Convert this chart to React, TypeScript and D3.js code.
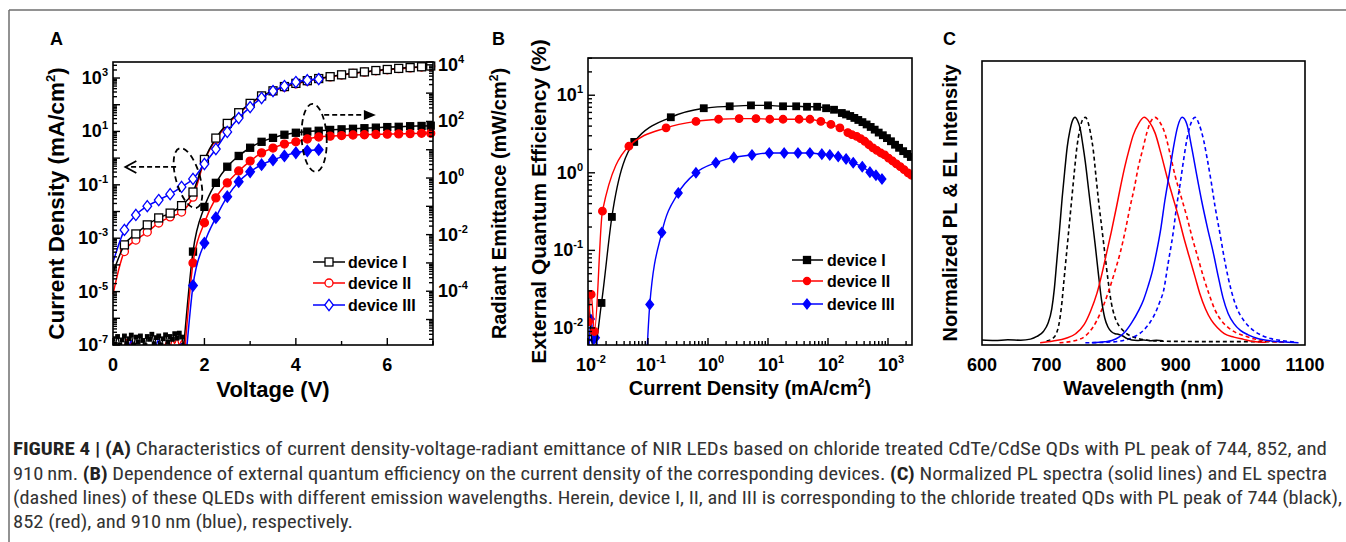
import React from "react";
import * as d3 from "d3";

const W = 1346;
const H = 542;
const FONT = "'Liberation Sans', Arial, Helvetica, sans-serif";
const CAP_FONT = "'Liberation Sans Narrow', 'Roboto Condensed', 'DejaVu Sans Condensed', 'Liberation Sans', sans-serif";

// ---------------- Panel A data (log10 values) ----------------
const vJ = [0, 0.25, 0.5, 0.75, 1, 1.25, 1.5, 1.75, 2, 2.25, 2.5, 2.75, 3, 3.25, 3.5, 3.75, 4, 4.25, 4.5, 4.75, 5, 5.25, 5.5, 5.75, 6, 6.25, 6.5, 6.75, 6.95];
const jLogDevI = [-4.3, -3.25, -2.84, -2.5, -2.24, -2.06, -1.78, -1.27, -0.05, 0.75, 1.3, 1.7, 2.05, 2.33, 2.52, 2.68, 2.8, 2.9, 2.98, 3.05, 3.12, 3.18, 3.23, 3.28, 3.32, 3.36, 3.39, 3.42, 3.45];
const jLogDevII = [-5.1, -3.5, -3.07, -2.77, -2.43, -2.2, -2.02, -1.46, -0.1, 0.7, 1.25, 1.67, 2.02, 2.3, 2.5, 2.66, 2.78, 2.88, 2.97, 3.04, 3.11, 3.17, 3.22, 3.27, 3.31, 3.35, 3.38, 3.41, 3.44];
const vJDevIII = [0, 0.25, 0.5, 0.75, 1, 1.25, 1.5, 1.75, 2, 2.25, 2.5, 2.75, 3, 3.25, 3.5, 3.75, 4, 4.25, 4.5];
const jLogDevIII = [-3.9, -2.69, -2.13, -1.8, -1.57, -1.35, -1.08, -0.78, -0.22, 0.34, 0.98, 1.5, 1.91, 2.25, 2.51, 2.7, 2.85, 2.92, 2.96];

const vRadI = [1.55, 1.75, 2, 2.25, 2.5, 2.75, 3, 3.25, 3.5, 3.75, 4, 4.25, 4.5, 4.75, 5, 5.25, 5.5, 5.75, 6, 6.25, 6.5, 6.75, 6.95];
const radLogI = [-5.9, -2.6, -1.02, -0.17, 0.4, 0.78, 1.07, 1.28, 1.42, 1.53, 1.6, 1.64, 1.67, 1.7, 1.72, 1.74, 1.76, 1.78, 1.8, 1.81, 1.83, 1.84, 1.85];
const vRadII = [1.58, 1.75, 2, 2.25, 2.5, 2.75, 3, 3.25, 3.5, 3.75, 4, 4.25, 4.5, 4.75, 5, 5.25, 5.5, 5.75, 6, 6.25, 6.5, 6.75, 6.95];
const radLogII = [-5.9, -3.0, -1.58, -0.7, -0.17, 0.25, 0.6, 0.89, 1.06, 1.2, 1.28, 1.38, 1.45, 1.48, 1.5, 1.52, 1.53, 1.54, 1.55, 1.56, 1.57, 1.58, 1.58];
const vRadIII = [1.62, 1.75, 2, 2.25, 2.5, 2.75, 3, 3.25, 3.5, 3.75, 4, 4.25, 4.5];
const radLogIII = [-5.9, -3.8, -2.3, -1.4, -0.66, -0.13, 0.22, 0.47, 0.64, 0.78, 0.89, 0.96, 1.0];

const vNoiseI = [0, 0.05, 0.1, 0.15, 0.2, 0.25, 0.3, 0.35, 0.4, 0.45, 0.5, 0.55, 0.6, 0.65, 0.7, 0.75, 0.8, 0.85, 0.9, 0.95, 1, 1.05, 1.1, 1.15, 1.2, 1.25, 1.3, 1.35, 1.4, 1.45, 1.5, 1.55];
const radLogNoiseI = [-5.7, -5.88, -5.6, -5.9, -5.72, -5.58, -5.85, -5.68, -5.55, -5.9, -5.62, -5.8, -5.58, -5.74, -5.92, -5.6, -5.7, -5.52, -5.86, -5.64, -5.58, -5.9, -5.68, -5.54, -5.8, -5.6, -5.7, -5.5, -5.66, -5.48, -5.62, -5.9];
const vNoiseII = [0.2, 0.25, 0.3, 0.35, 0.4, 0.45, 0.5, 0.55, 0.6, 0.7, 0.8, 0.9, 1.0, 1.1, 1.2, 1.25, 1.3, 1.35, 1.4, 1.45, 1.5, 1.55];
const radLogNoiseII = [-6.2, -5.95, -5.7, -5.95, -5.8, -6.1, -6.2, -6.1, -6.2, -6.2, -6.2, -6.1, -6.2, -6.0, -5.75, -5.95, -5.7, -5.85, -5.65, -5.9, -5.75, -6.0];
const vNoiseIII = [0.3, 0.35, 0.4, 0.45, 0.5, 0.9, 0.95, 1.0, 1.05, 1.1, 1.4, 1.45, 1.5, 1.55];
const radLogNoiseIII = [-6.2, -5.95, -5.75, -6.0, -6.2, -6.2, -5.9, -5.7, -5.95, -6.2, -6.2, -5.95, -5.85, -6.1];

const aLeftLabelExps = [3, 1, -1, -3, -5, -7];
const aRightLabelExps = [4, 2, 0, -2, -4];
const aXLabels = [0, 2, 4, 6];
const aXMinor = [1, 3, 5, 7];

// ---------------- Panel B data ----------------
const jEqeI = [0.0102, 0.0125, 0.0168, 0.025, 0.059, 0.24, 0.85, 2.3, 5.2, 10, 17.8, 29.5, 44.7, 66, 93, 126, 170, 200, 235, 275, 320, 375, 440, 515, 600, 700, 820, 960, 1120, 1310, 1530, 1790, 2090, 2400];
const eqeI = [0.027, 0.005, 0.021, 0.27, 2.5, 5.2, 6.8, 7.2, 7.4, 7.4, 7.2, 7.2, 7.1, 7.1, 6.8, 6.5, 5.9, 5.65, 5.4, 5.1, 4.8, 4.5, 4.2, 3.9, 3.6, 3.3, 3.05, 2.8, 2.55, 2.3, 2.1, 1.9, 1.75, 1.6];
const jEqeII = [0.0102, 0.0113, 0.0128, 0.0174, 0.048, 0.2, 0.63, 1.5, 3.3, 6.3, 10.7, 17.8, 33, 50, 76, 112, 158, 214, 250, 300, 350, 410, 480, 560, 650, 760, 880, 1020, 1190, 1380, 1600, 1850, 2150, 2450];
const eqeII = [0.012, 0.027, 0.009, 0.32, 2.2, 3.8, 4.6, 4.9, 5.0, 5.0, 4.9, 4.9, 4.9, 4.9, 4.6, 4.2, 3.8, 3.3, 3.1, 2.95, 2.75, 2.55, 2.3, 2.1, 1.95, 1.8, 1.7, 1.55, 1.42, 1.3, 1.2, 1.1, 1.0, 0.93];
const jEqeIII = [0.095, 0.107, 0.17, 0.32, 0.63, 1.35, 2.7, 5.4, 10.5, 18.6, 31.6, 50, 79, 107, 148, 200, 263, 372, 500, 630, 794];
const eqeIII = [0.004, 0.02, 0.17, 0.55, 1.0, 1.35, 1.58, 1.7, 1.8, 1.8, 1.8, 1.8, 1.74, 1.7, 1.62, 1.51, 1.35, 1.2, 1.02, 0.93, 0.83];
const jNoiseIII = [0.0102, 0.0112, 0.0124, 0.0136, 0.015];
const eqeNoiseIII = [0.004, 0.013, 0.007, 0.0075, 0.004];

const bYLabelExps = [1, 0, -1, -2];
const bXLabelExps = [-2, -1, 0, 1, 2, 3];

// ---------------- Panel C data ----------------
const wlPLI = [600, 620, 640, 660, 675, 685, 695, 702, 708, 712, 716, 720, 724, 728, 732, 736, 740, 744, 748, 752, 756, 760, 765, 770, 775, 780, 785, 790, 795, 800, 806, 812, 818, 825, 832, 840, 850, 860, 870, 880];
const plI = [0.012, 0.01, 0.013, 0.011, 0.016, 0.028, 0.05, 0.085, 0.15, 0.24, 0.37, 0.5, 0.64, 0.76, 0.87, 0.94, 0.985, 1.0, 0.985, 0.95, 0.88, 0.8, 0.68, 0.56, 0.44, 0.31, 0.19, 0.11, 0.07, 0.05, 0.04, 0.037, 0.03, 0.018, 0.012, 0.01, 0.012, 0.009, 0.011, 0.009];
const wlELI = [700, 710, 715, 719, 723, 727, 731, 735, 739, 743, 747, 751, 755, 760, 764, 768, 772, 776, 780, 785, 790, 795, 800, 805, 810, 815, 822, 830, 840, 855, 870, 900, 950, 1000, 1070];
const elI = [0.008, 0.02, 0.04, 0.08, 0.16, 0.28, 0.4, 0.52, 0.64, 0.76, 0.87, 0.94, 0.985, 1.0, 0.98, 0.93, 0.86, 0.75, 0.64, 0.52, 0.4, 0.28, 0.18, 0.12, 0.085, 0.065, 0.045, 0.03, 0.02, 0.012, 0.008, 0.006, 0.005, 0.005, 0.004];
const wlPLII = [690, 710, 730, 745, 758, 768, 778, 786, 793, 800, 808, 815, 821, 828, 834, 842, 851, 859, 868, 877, 886, 895, 904, 913, 922, 930, 937, 946, 955, 965, 975, 990, 1005, 1020, 1040];
const plII = [0.0, 0.008, 0.02, 0.04, 0.08, 0.14, 0.22, 0.31, 0.4, 0.49, 0.6, 0.7, 0.78, 0.86, 0.92, 0.97, 1.0, 0.98, 0.93, 0.84, 0.74, 0.65, 0.56, 0.46, 0.37, 0.29, 0.22, 0.15, 0.1, 0.065, 0.04, 0.025, 0.015, 0.006, 0.002];
const wlELII = [720, 745, 760, 772, 783, 795, 805, 814, 822, 829, 836, 842, 849, 855, 861, 868, 875, 883, 891, 899, 908, 917, 926, 935, 943, 951, 960, 970, 980, 993, 1007, 1020, 1035, 1050, 1070];
const elII = [0.0, 0.01, 0.03, 0.07, 0.13, 0.22, 0.31, 0.4, 0.5, 0.6, 0.69, 0.78, 0.86, 0.93, 0.98, 1.0, 0.98, 0.93, 0.84, 0.74, 0.65, 0.56, 0.46, 0.37, 0.29, 0.22, 0.15, 0.1, 0.07, 0.045, 0.03, 0.018, 0.01, 0.005, 0.002];
const wlPLIII = [770, 790, 801, 812, 822, 832, 842, 850, 857, 864, 870, 877, 883, 890, 896, 903, 910, 917, 925, 932, 940, 949, 958, 966, 973, 981, 990, 1000, 1012, 1028, 1048, 1070, 1090];
const plIII = [0.0, 0.004, 0.01, 0.025, 0.05, 0.09, 0.14, 0.19, 0.25, 0.32, 0.4, 0.51, 0.63, 0.75, 0.86, 0.96, 1.0, 0.97, 0.86, 0.75, 0.63, 0.51, 0.4, 0.29, 0.2, 0.13, 0.085, 0.055, 0.035, 0.018, 0.008, 0.003, 0.0];
const wlELIII = [760, 790, 810, 825, 838, 850, 860, 868, 875, 881, 888, 896, 901, 907, 912, 917, 923, 930, 936, 943, 949, 955, 961, 968, 976, 986, 995, 1005, 1020, 1035, 1050, 1069, 1085];
const elIII = [0.0, 0.002, 0.006, 0.015, 0.03, 0.055, 0.09, 0.13, 0.18, 0.23, 0.35, 0.49, 0.6, 0.71, 0.81, 0.9, 0.97, 1.0, 0.97, 0.9, 0.81, 0.71, 0.6, 0.49, 0.36, 0.23, 0.15, 0.1, 0.055, 0.03, 0.016, 0.008, 0.003];
const cXLabels = [600, 700, 800, 900, 1000, 1100];

const legendNames = ["device I", "device II", "device III"];
const COLORS = ["#000000", "#ff0000", "#0000ff"];

// ---------------- scales ----------------
const xA = d3.scaleLinear().domain([0, 7]).range([113, 433]);
const yAL = d3.scaleLog().domain([1e-7, Math.pow(10, 3.6)]).range([345, 62]);
const yAR = d3.scaleLog().domain([Math.pow(10, -5.9), Math.pow(10, 4.1)]).range([345, 62]);
const xB = d3.scaleLog().domain([0.01, Math.pow(10, 3.4)]).range([588, 912]);
const yB = d3.scaleLog().domain([Math.pow(10, -2.22), Math.pow(10, 1.48)]).range([345, 58]);
const xC = d3.scaleLinear().domain([600, 1100]).range([982, 1305]);
const yC = d3.scaleLinear().domain([-0.01, 1.25]).range([345, 61]);

function pathOf(xs: number[], ys: number[], sx: any, sy: any, curve: any = d3.curveMonotoneX) {
  const gen = d3
    .line<number>()
    .x((_d, i) => sx(xs[i]))
    .y((_d, i) => sy(ys[i]))
    .curve(curve);
  return gen(xs) || "";
}

function Marker({ shape, x, y, size, color, filled }: any) {
  const fill = filled ? color : "#ffffff";
  const sw = 1.3;
  if (shape === "square") {
    return <rect x={x - size / 2} y={y - size / 2} width={size} height={size} fill={fill} stroke={color} strokeWidth={sw} />;
  }
  if (shape === "circle") {
    return <circle cx={x} cy={y} r={size / 2} fill={fill} stroke={color} strokeWidth={sw} />;
  }
  const h = size * 0.62;
  const w = size * 0.48;
  return <path d={`M${x},${y - h}L${x + w},${y}L${x},${y + h}L${x - w},${y}Z`} fill={fill} stroke={color} strokeWidth={sw} />;
}

function Series({ xs, ys, sx, sy, color, shape, size, filled, skipFirst, width = 1.5, dash, noMarkers, clip }: any) {
  return (
    <g clipPath={clip}>
      <path d={pathOf(xs, ys, sx, sy)} fill="none" stroke={color} strokeWidth={width} strokeDasharray={dash} />
      {!noMarkers &&
        xs.map((xv: number, i: number) =>
          skipFirst && i === 0 ? null : (
            <Marker key={i} shape={shape} x={sx(xv)} y={sy(ys[i])} size={size} color={color} filled={filled} />
          )
        )}
    </g>
  );
}

function logTicks(domain: number[]) {
  const [a, b] = domain;
  const out: { v: number; major: boolean }[] = [];
  for (let e = Math.floor(Math.log10(a)); e <= Math.ceil(Math.log10(b)); e++) {
    for (let m = 1; m <= 9; m++) {
      const v = m * Math.pow(10, e);
      if (v >= a * 0.999 && v <= b * 1.001) out.push({ v, major: m === 1 });
    }
  }
  return out;
}

function Pow({ x, y, exp, anchor = "middle", fs = 18 }: any) {
  return (
    <text x={x} y={y} textAnchor={anchor} fontSize={fs} fontWeight="bold" fill="#000">
      10
      <tspan dy={-8} fontSize={11}>
        {String(exp)}
      </tspan>
    </text>
  );
}

function Rotated({ x, y, fs, children }: any) {
  return (
    <text transform={`translate(${x},${y}) rotate(-90)`} textAnchor="middle" fontSize={fs} fontWeight="bold" fill="#000">
      {children}
    </text>
  );
}

const MAJ = 7;
const MIN = 4;

export default function App() {
  const aLeftTicks = logTicks(yAL.domain());
  const aRightTicks = logTicks(yAR.domain());
  const bLeftTicks = logTicks(yB.domain());
  const bBottomTicks = logTicks(xB.domain());
  const p10 = (arr: number[]) => arr.map((v) => Math.pow(10, v));

  const [aL, aR, aT, aB] = [xA.range()[0], xA.range()[1], yAL.range()[1], yAL.range()[0]];
  const [bL, bR, bT, bB] = [xB.range()[0], xB.range()[1], yB.range()[1], yB.range()[0]];
  const [cL, cR, cT, cB] = [xC.range()[0], xC.range()[1], yC.range()[1], yC.range()[0]];

  // annotation positions (in data coordinates)
  const e1x = xA(1.64), e1y = yAL(Math.pow(10, -0.75));
  const a1y = yAL(Math.pow(10, -0.33)), a1x0 = xA(1.38), a1x1 = xA(0.27);
  const e2x = xA(4.4), e2y = yAR(Math.pow(10, 1.42));
  const a2y = yAR(Math.pow(10, 2.23)), a2x0 = xA(4.62), a2x1 = xA(5.75);

  const legA = [262, 283, 305];
  const legB = [260, 281, 304];
  const shapes = ["square", "circle", "diamond"];
  const capY = [455, 480, 504, 528];

  return (
    <svg width={W} height={H} style={{ position: "absolute", left: 0, top: 0, display: "block" }} fontFamily={FONT}>
      <defs>
        <clipPath id="clipA">
          <rect x={aL} y={aT} width={aR - aL} height={aB - aT} />
        </clipPath>
        <clipPath id="clipB">
          <rect x={bL} y={bT} width={bR - bL} height={bB - bT} />
        </clipPath>
        <clipPath id="clipC">
          <rect x={cL} y={cT} width={cR - cL} height={cB - cT} />
        </clipPath>
      </defs>
      <rect x={0} y={0} width={W} height={H} fill="#ffffff" />
      {/* frame */}
      <line x1={9} y1={10} x2={W} y2={10} stroke="#6e6e6e" strokeWidth={1.5} />
      <line x1={9} y1={10} x2={9} y2={H} stroke="#6e6e6e" strokeWidth={1.5} />

      {/* panel letters */}
      <text x={50} y={45} fontSize={18} fontWeight="bold">A</text>
      <text x={492} y={45} fontSize={18} fontWeight="bold">B</text>
      <text x={943} y={45} fontSize={18} fontWeight="bold">C</text>

      {/* ================= Panel A ================= */}
      <g>
        {/* noise floor (radiant emittance) */}
        <Series xs={vNoiseII} ys={p10(radLogNoiseII)} sx={xA} sy={yAR} color={COLORS[1]} noMarkers width={1.3} clip="url(#clipA)" />
        <Series xs={vNoiseIII} ys={p10(radLogNoiseIII)} sx={xA} sy={yAR} color={COLORS[2]} noMarkers width={1.3} clip="url(#clipA)" />
        <Series xs={vNoiseI} ys={p10(radLogNoiseI)} sx={xA} sy={yAR} color={COLORS[0]} shape="square" size={3.5} filled width={1.3} clip="url(#clipA)" />

        {/* current density (open markers) */}
        <Series xs={vJ} ys={p10(jLogDevII)} sx={xA} sy={yAL} color={COLORS[1]} shape="circle" size={8} filled={false} skipFirst />
        <Series xs={vJ} ys={p10(jLogDevI)} sx={xA} sy={yAL} color={COLORS[0]} shape="square" size={8} filled={false} skipFirst />
        <Series xs={vJDevIII} ys={p10(jLogDevIII)} sx={xA} sy={yAL} color={COLORS[2]} shape="diamond" size={9} filled={false} skipFirst />

        {/* radiant emittance (filled markers) */}
        <Series xs={vRadI} ys={p10(radLogI)} sx={xA} sy={yAR} color={COLORS[0]} shape="square" size={7} filled skipFirst />
        <Series xs={vRadII} ys={p10(radLogII)} sx={xA} sy={yAR} color={COLORS[1]} shape="circle" size={8} filled skipFirst />
        <Series xs={vRadIII} ys={p10(radLogIII)} sx={xA} sy={yAR} color={COLORS[2]} shape="diamond" size={9} filled skipFirst />

        {/* annotations */}
        <ellipse cx={e1x} cy={e1y} rx={12} ry={31} transform={`rotate(-16 ${e1x} ${e1y})`} fill="none" stroke="#000" strokeWidth={1.8} strokeDasharray="6,4" />
        <line x1={a1x0} y1={a1y} x2={a1x1 + 2} y2={a1y} stroke="#000" strokeWidth={1.8} strokeDasharray="5,3" />
        <path d={`M${a1x1 + 11},${a1y - 6}L${a1x1},${a1y}L${a1x1 + 11},${a1y + 6}`} fill="none" stroke="#000" strokeWidth={1.8} />
        <ellipse cx={e2x} cy={e2y} rx={12.5} ry={34} transform={`rotate(-3 ${e2x} ${e2y})`} fill="none" stroke="#000" strokeWidth={1.8} strokeDasharray="6,4" />
        <line x1={a2x0} y1={a2y} x2={a2x1 - 10} y2={a2y} stroke="#000" strokeWidth={1.8} strokeDasharray="5,3" />
        <path d={`M${a2x1},${a2y}L${a2x1 - 12},${a2y - 5}L${a2x1 - 12},${a2y + 5}Z`} fill="#000" />

        {/* frame & ticks */}
        <rect x={aL} y={aT} width={aR - aL} height={aB - aT} fill="none" stroke="#000" strokeWidth={1.6} />
        {aLeftTicks.map((t, i) => (
          <line key={"al" + i} x1={aL} x2={aL + (t.major ? MAJ : MIN)} y1={yAL(t.v)} y2={yAL(t.v)} stroke="#000" strokeWidth={1.4} />
        ))}
        {aRightTicks.map((t, i) => (
          <line key={"ar" + i} x1={aR} x2={aR - (t.major ? MAJ : MIN)} y1={yAR(t.v)} y2={yAR(t.v)} stroke="#000" strokeWidth={1.4} />
        ))}
        {aXLabels.map((v) => (
          <line key={"axm" + v} x1={xA(v)} x2={xA(v)} y1={aB} y2={aB - MAJ} stroke="#000" strokeWidth={1.4} />
        ))}
        {aXMinor.map((v) => (
          <line key={"axn" + v} x1={xA(v)} x2={xA(v)} y1={aB} y2={aB - MIN} stroke="#000" strokeWidth={1.4} />
        ))}
        {aLeftLabelExps.map((e) => (
          <Pow key={"all" + e} x={108} y={yAL(Math.pow(10, e)) + 6} exp={e} anchor="end" />
        ))}
        {aRightLabelExps.map((e) => (
          <Pow key={"arl" + e} x={438} y={yAR(Math.pow(10, e)) + 6} exp={e} anchor="start" />
        ))}
        {aXLabels.map((v) => (
          <text key={"axl" + v} x={xA(v)} y={371} textAnchor="middle" fontSize={18} fontWeight="bold">
            {v}
          </text>
        ))}
        <text x={(aL + aR) / 2} y={397} textAnchor="middle" fontSize={22} fontWeight="bold">
          Voltage (V)
        </text>
        <Rotated x={64} y={(aT + aB) / 2} fs={22.5}>
          Current Density (mA/cm
          <tspan dy={-9} fontSize={13}>2</tspan>
          <tspan dy={9}>)</tspan>
        </Rotated>
        <Rotated x={506} y={(aT + aB) / 2} fs={20}>
          Radiant Emittance (mW/cm
          <tspan dy={-8} fontSize={12}>2</tspan>
          <tspan dy={8}>)</tspan>
        </Rotated>

        {/* legend A */}
        {legendNames.map((n, i) => (
          <g key={"la" + i}>
            <line x1={313} x2={345} y1={legA[i]} y2={legA[i]} stroke={COLORS[i]} strokeWidth={1.5} />
            <Marker shape={shapes[i]} x={329} y={legA[i]} size={i === 2 ? 9 : 8} color={COLORS[i]} filled={false} />
            <text x={348} y={legA[i] + 6} fontSize={16} fontWeight="bold">
              {n}
            </text>
          </g>
        ))}
      </g>

      {/* ================= Panel B ================= */}
      <g>
        <Series xs={jNoiseIII} ys={eqeNoiseIII} sx={xB} sy={yB} color={COLORS[2]} shape="diamond" size={7} filled clip="url(#clipB)" />
        <Series xs={jEqeI} ys={eqeI} sx={xB} sy={yB} color={COLORS[0]} shape="square" size={6.5} filled clip="url(#clipB)" width={1.4} />
        <Series xs={jEqeII} ys={eqeII} sx={xB} sy={yB} color={COLORS[1]} shape="circle" size={7.5} filled clip="url(#clipB)" width={1.4} />
        <Series xs={jEqeIII} ys={eqeIII} sx={xB} sy={yB} color={COLORS[2]} shape="diamond" size={8} filled skipFirst clip="url(#clipB)" width={1.4} />

        <rect x={bL} y={bT} width={bR - bL} height={bB - bT} fill="none" stroke="#000" strokeWidth={1.6} />
        {bLeftTicks.map((t, i) => (
          <line key={"bl" + i} x1={bL} x2={bL + (t.major ? MAJ : MIN)} y1={yB(t.v)} y2={yB(t.v)} stroke="#000" strokeWidth={1.4} />
        ))}
        {bBottomTicks.map((t, i) => (
          <line key={"bb" + i} x1={xB(t.v)} x2={xB(t.v)} y1={bB} y2={bB - (t.major ? MAJ : MIN)} stroke="#000" strokeWidth={1.4} />
        ))}
        {bYLabelExps.map((e) => (
          <Pow key={"byl" + e} x={583} y={yB(Math.pow(10, e)) + 6} exp={e} anchor="end" />
        ))}
        {bXLabelExps.map((e) => (
          <Pow key={"bxl" + e} x={xB(Math.pow(10, e)) + 3} y={371} exp={e} anchor="middle" />
        ))}
        <text x={(bL + bR) / 2} y={395} textAnchor="middle" fontSize={20} fontWeight="bold">
          Current Density (mA/cm
          <tspan dy={-8} fontSize={12}>2</tspan>
          <tspan dy={8}>)</tspan>
        </text>
        <Rotated x={546} y={(bT + bB) / 2} fs={21}>
          External Quantum Efficiency (%)
        </Rotated>
        {legendNames.map((n, i) => (
          <g key={"lb" + i}>
            <line x1={792} x2={823} y1={legB[i]} y2={legB[i]} stroke={COLORS[i]} strokeWidth={1.5} />
            <Marker shape={shapes[i]} x={807} y={legB[i]} size={i === 2 ? 8 : 7} color={COLORS[i]} filled />
            <text x={827} y={legB[i] + 6} fontSize={16} fontWeight="bold">
              {n}
            </text>
          </g>
        ))}
      </g>

      {/* ================= Panel C ================= */}
      <g>
        <Series xs={wlELI} ys={elI} sx={xC} sy={yC} color={COLORS[0]} noMarkers dash="4,3" width={1.6} clip="url(#clipC)" />
        <Series xs={wlELII} ys={elII} sx={xC} sy={yC} color={COLORS[1]} noMarkers dash="4,3" width={1.6} clip="url(#clipC)" />
        <Series xs={wlELIII} ys={elIII} sx={xC} sy={yC} color={COLORS[2]} noMarkers dash="4,3" width={1.6} clip="url(#clipC)" />
        <Series xs={wlPLI} ys={plI} sx={xC} sy={yC} color={COLORS[0]} noMarkers width={1.5} clip="url(#clipC)" />
        <Series xs={wlPLII} ys={plII} sx={xC} sy={yC} color={COLORS[1]} noMarkers width={1.5} clip="url(#clipC)" />
        <Series xs={wlPLIII} ys={plIII} sx={xC} sy={yC} color={COLORS[2]} noMarkers width={1.5} clip="url(#clipC)" />
        <rect x={cL} y={cT} width={cR - cL} height={cB - cT} fill="none" stroke="#000" strokeWidth={1.6} />
        {cXLabels.map((v) => (
          <text key={"cxl" + v} x={xC(v)} y={371} textAnchor="middle" fontSize={18} fontWeight="bold">
            {v}
          </text>
        ))}
        <text x={(cL + cR) / 2} y={395} textAnchor="middle" fontSize={20} fontWeight="bold">
          Wavelength (nm)
        </text>
        <Rotated x={957} y={(cT + cB) / 2} fs={20}>
          Normalized PL &amp; EL Intensity
        </Rotated>
      </g>

      {/* ================= Caption ================= */}
      <g fontFamily={CAP_FONT} fontSize={19} fill="#333333">
        <text x={13} y={capY[0]} textLength={1314} lengthAdjust="spacingAndGlyphs">
          <tspan fontWeight="bold" fill="#222">FIGURE 4 | (A)</tspan>
          {" Characteristics of current density-voltage-radiant emittance of NIR LEDs based on chloride treated CdTe/CdSe QDs with PL peak of 744, 852, and"}
        </text>
        <text x={13} y={capY[1]} textLength={1314} lengthAdjust="spacingAndGlyphs">
          {"910\u2009nm. "}
          <tspan fontWeight="bold" fill="#222">(B)</tspan>
          {" Dependence of external quantum efficiency on the current density of the corresponding devices. "}
          <tspan fontWeight="bold" fill="#222">(C)</tspan>
          {" Normalized PL spectra (solid lines) and EL spectra"}
        </text>
        <text x={13} y={capY[2]} textLength={1329} lengthAdjust="spacingAndGlyphs">
          {"(dashed lines) of these QLEDs with different emission wavelengths. Herein, device I, II, and III is corresponding to the chloride treated QDs with PL peak of 744 (black),"}
        </text>
        <text x={13} y={capY[3]} textLength={340} lengthAdjust="spacingAndGlyphs">
          {"852 (red), and 910\u2009nm (blue), respectively."}
        </text>
      </g>
    </svg>
  );
}
